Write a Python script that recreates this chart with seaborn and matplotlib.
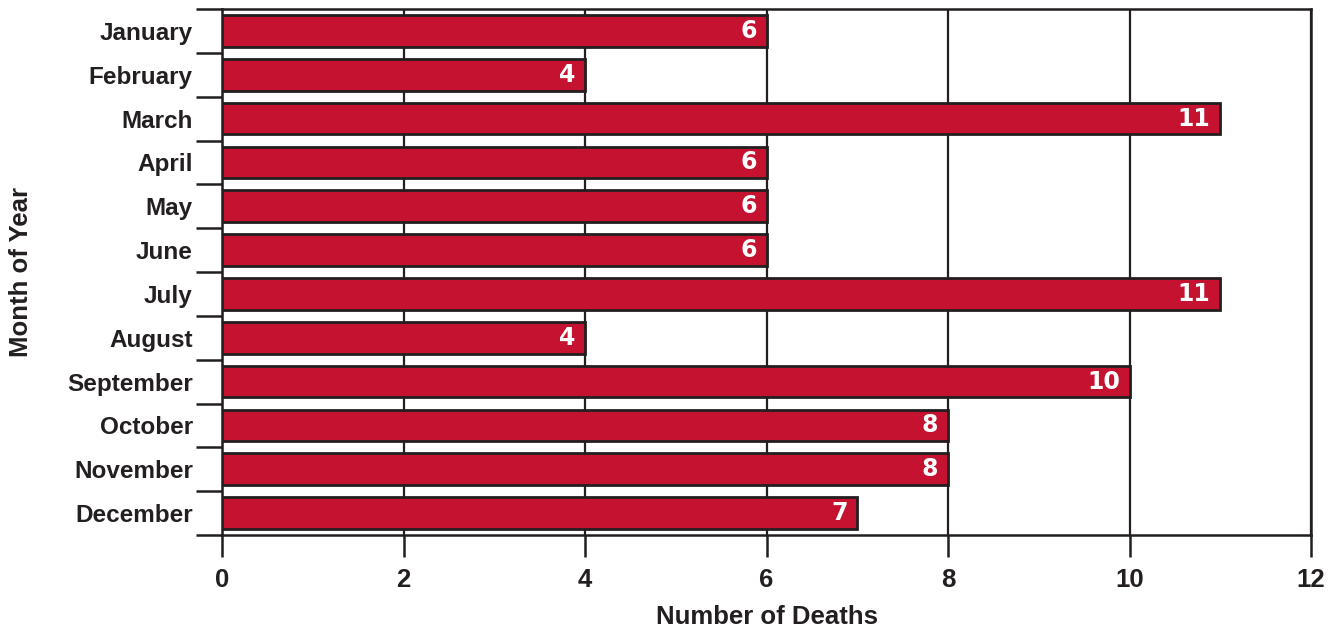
import numpy as np
import pandas as pd
import matplotlib
matplotlib.use("Agg")
import matplotlib.pyplot as plt
import seaborn as sns
from matplotlib.ticker import FixedLocator

months = ['January', 'February', 'March', 'April', 'May', 'June',
          'July', 'August', 'September', 'October', 'November', 'December']
deaths = [6, 4, 11, 6, 6, 6, 11, 4, 10, 8, 8, 7]
x_ticks = [0, 2, 4, 6, 8, 10, 12]

table = pd.DataFrame({'month': months, 'deaths': deaths})

sns.set_style('white')
plt.rcParams['font.family'] = ['Liberation Sans Narrow', 'Liberation Sans', 'DejaVu Sans']

dark = '#231f20'
red = '#c41230'

fig = plt.figure(figsize=(13.38, 6.31), dpi=100)
ax = fig.add_axes([222 / 1338, 1 - 535 / 631, 1089 / 1338, 526 / 631])

sns.barplot(table, x='deaths', y='month', orient='h', color=red,
            edgecolor=dark, linewidth=2, width=0.72, saturation=1, ax=ax, zorder=3)

ax.set_xlim(0, 12)
ax.set_ylim(len(months) - 0.5, -0.5)
ax.set_xticks(x_ticks)
ax.xaxis.grid(True, color=dark, linewidth=1.6, zorder=0)
ax.set_axisbelow(True)

for sp in ax.spines.values():
    sp.set_color(dark)
    sp.set_linewidth(1.8)
    sp.set_visible(True)

# category separators on y, as minor ticks
ax.yaxis.set_minor_locator(FixedLocator(np.arange(-0.5, len(months), 1.0)))
ax.tick_params(axis='y', which='major', length=0, pad=21, labelsize=17.5, labelcolor=dark)
ax.tick_params(axis='y', which='minor', length=19, width=1.8, color=dark, left=True)
ax.tick_params(axis='x', which='major', length=16, width=1.8, color=dark, bottom=True,
               pad=8, labelsize=18.5, labelcolor=dark)
for lab in ax.get_yticklabels() + ax.get_xticklabels():
    lab.set_fontweight('bold')

ax.set_xlabel('Number of Deaths', fontsize=18.5, fontweight='bold', color=dark)
ax.set_ylabel('Month of Year', fontsize=18.5, fontweight='bold', color=dark)
ax.xaxis.set_label_coords(0.5, -0.133)
ax.yaxis.set_label_coords(-0.174, 0.5)

texts = ax.bar_label(ax.containers[0], padding=-7, color='white',
                     fontsize=17, fontweight='bold', family='DejaVu Sans')
for t in texts:
    t.set_ha('right')

fig.savefig('out.png', dpi=100)
